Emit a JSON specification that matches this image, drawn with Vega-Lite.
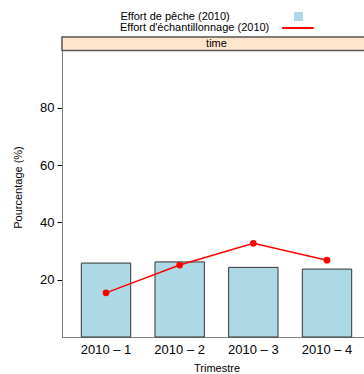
{
  "$schema": "https://vega.github.io/schema/vega-lite/v6.json",
  "autosize": {"type": "none"},
  "padding": {"left": 62, "top": 37, "right": 0, "bottom": 37},
  "width": 309,
  "height": 300,
  "config": {
    "font": "Liberation Sans",
    "view": {"stroke": "#808080", "strokeWidth": 1}
  },
  "data": {
    "values": [
      {"trimestre": "2010 – 1", "serie": "Effort de pêche (2010)", "valeur": 25.8},
      {"trimestre": "2010 – 2", "serie": "Effort de pêche (2010)", "valeur": 26.2},
      {"trimestre": "2010 – 3", "serie": "Effort de pêche (2010)", "valeur": 24.3},
      {"trimestre": "2010 – 4", "serie": "Effort de pêche (2010)", "valeur": 23.7},
      {"trimestre": "2010 – 1", "serie": "Effort d'échantillonnage (2010)", "valeur": 15.4},
      {"trimestre": "2010 – 2", "serie": "Effort d'échantillonnage (2010)", "valeur": 25.1},
      {"trimestre": "2010 – 3", "serie": "Effort d'échantillonnage (2010)", "valeur": 32.7},
      {"trimestre": "2010 – 4", "serie": "Effort d'échantillonnage (2010)", "valeur": 26.8}
    ]
  },
  "layer": [
    {
      "transform": [{"filter": "datum.serie == 'Effort de pêche (2010)'"}],
      "mark": {"type": "bar", "stroke": "#333333", "strokeWidth": 1},
      "encoding": {
        "x": {
          "field": "trimestre", "type": "nominal", "title": "Trimestre",
          "scale": {"paddingInner": 0.33, "paddingOuter": 0.262},
          "axis": {"labelAngle": 0, "labelFontSize": 13, "labelColor": "black", "labelPadding": 6, "ticks": false, "domainColor": "#808080", "titleFontSize": 11, "titleFontWeight": "normal", "titleColor": "black", "titlePadding": 6}
        },
        "y": {
          "field": "valeur", "type": "quantitative", "title": "Pourcentage (%)",
          "scale": {"domain": [0, 104.7], "nice": false, "zero": true},
          "axis": {"values": [20, 40, 60, 80], "grid": false, "labelFontSize": 13, "labelColor": "black", "labelPadding": 3, "tickColor": "black", "tickSize": 5, "domainColor": "#808080", "titleFontSize": 11, "titleFontWeight": "normal", "titleColor": "black", "titlePadding": 16}
        },
        "fill": {
          "field": "serie", "type": "nominal",
          "scale": {"range": ["#ADD8E6"]},
          "legend": {"orient": "none", "legendX": 231, "legendY": -26, "title": null, "symbolType": "square", "symbolSize": 81, "symbolStrokeWidth": 0, "symbolOpacity": 1, "labelOffset": -183.5, "labelFontSize": 11, "labelColor": "black", "labelLimit": 0}
        }
      }
    },
    {
      "transform": [{"filter": "datum.serie != 'Effort de pêche (2010)'"}],
      "mark": {"type": "line", "strokeWidth": 1.5},
      "encoding": {
        "x": {"field": "trimestre", "type": "nominal"},
        "y": {"field": "valeur", "type": "quantitative"},
        "stroke": {
          "field": "serie", "type": "nominal",
          "scale": {"range": ["#FF0000"]},
          "legend": {"orient": "none", "legendX": 219, "legendY": -26, "title": null, "symbolType": "stroke", "symbolSize": 1000, "symbolStrokeWidth": 2, "labelOffset": -195, "labelFontSize": 11, "labelColor": "black", "labelLimit": 0}
        }
      }
    },
    {
      "transform": [{"filter": "datum.serie != 'Effort de pêche (2010)'"}],
      "mark": {"type": "point", "filled": true, "color": "#FF0000", "size": 45, "opacity": 1},
      "encoding": {
        "x": {"field": "trimestre", "type": "nominal"},
        "y": {"field": "valeur", "type": "quantitative"}
      }
    },
    {
      "data": {"values": [{"panel": "time"}]},
      "mark": {"type": "rect", "fill": "#FFE5CC", "stroke": "#555555", "strokeWidth": 1.5},
      "encoding": {
        "y": {"datum": 100, "type": "quantitative"},
        "y2": {"datum": 104.7}
      }
    },
    {
      "data": {"values": [{"panel": "time"}]},
      "mark": {"type": "text", "fontSize": 11, "color": "black", "baseline": "middle"},
      "encoding": {
        "y": {"datum": 102.35, "type": "quantitative"},
        "text": {"field": "panel"}
      }
    }
  ]
}
